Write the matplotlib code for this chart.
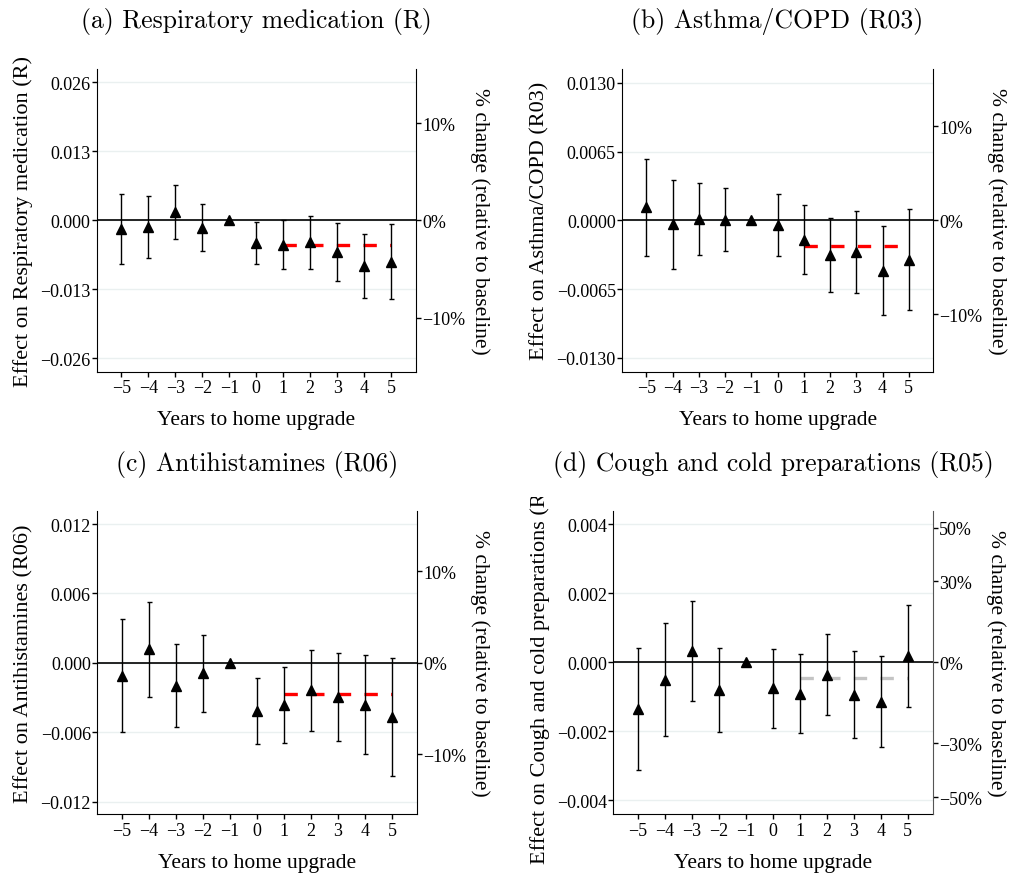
import matplotlib
matplotlib.use('Agg')
import matplotlib.pyplot as plt
import numpy as np
from matplotlib.transforms import Bbox, TransformedBbox

# ==============================
# Dados
# ==============================
years = [-5, -4, -3, -2, -1, 0, 1, 2, 3, 4, 5]
post_years = [1, 5]

# (a) Respiratory medication (R)
coef_a = [-0.00163, -0.00125, 0.00153, -0.00135, 0.0, -0.00429, -0.00460, -0.00417, -0.00592, -0.00852, -0.00780]
lo_a = [-0.00827, -0.00702, -0.00357, -0.00583, np.nan, -0.00821, -0.00921, -0.00915, -0.01134, -0.01453, -0.01485]
hi_a = [0.00501, 0.00451, 0.00664, 0.00313, np.nan, -0.00038, 0.00000, 0.00081, -0.00050, -0.00250, -0.00075]
post_a = -0.00457
base_a = 0.183
yticks_a = [-0.026, -0.013, 0.0, 0.013, 0.026]
ylabels_a = ['\u22120.026', '\u22120.013', '0.000', '0.013', '0.026']
pticks_a = [-10, 0, 10]

# (b) Asthma/COPD (R03)
coef_b = [0.00124, -0.00039, 0.00011, 0.00006, 0.0, -0.00046, -0.00182, -0.00330, -0.00301, -0.00477, -0.00371]
lo_b = [-0.00333, -0.00455, -0.00330, -0.00289, np.nan, -0.00339, -0.00506, -0.00678, -0.00688, -0.00898, -0.00848]
hi_b = [0.00581, 0.00377, 0.00352, 0.00301, np.nan, 0.00248, 0.00141, 0.00019, 0.00085, -0.00057, 0.00107]
post_b = -0.00245
base_b = 0.0887
yticks_b = [-0.013, -0.0065, 0.0, 0.0065, 0.013]
ylabels_b = ['\u22120.0130', '\u22120.0065', '0.0000', '0.0065', '0.0130']
pticks_b = [-10, 0, 10]

# (c) Antihistamines (R06)
coef_c = [-0.00113, 0.00117, -0.00200, -0.00091, 0.0, -0.00416, -0.00363, -0.00239, -0.00294, -0.00362, -0.00470]
lo_c = [-0.00602, -0.00292, -0.00558, -0.00422, np.nan, -0.00703, -0.00691, -0.00590, -0.00674, -0.00792, -0.00980]
hi_c = [0.00376, 0.00526, 0.00159, 0.00240, np.nan, -0.00130, -0.00035, 0.00113, 0.00087, 0.00069, 0.00040]
post_c = -0.00269
base_c = 0.0792
yticks_c = [-0.012, -0.006, 0.0, 0.006, 0.012]
ylabels_c = ['\u22120.012', '\u22120.006', '0.000', '0.006', '0.012']
pticks_c = [-10, 0, 10]

# (d) Cough and cold preparations (R05)
coef_d = [-0.00136, -0.00050, 0.00032, -0.00080, 0.0, -0.00075, -0.00091, -0.00036, -0.00094, -0.00114, 0.00019]
lo_d = [-0.00313, -0.00213, -0.00112, -0.00201, np.nan, -0.00189, -0.00206, -0.00153, -0.00219, -0.00245, -0.00128]
hi_d = [0.00040, 0.00113, 0.00176, 0.00040, np.nan, 0.00039, 0.00024, 0.00081, 0.00032, 0.00017, 0.00166]
post_d = -0.00045
base_d = 0.0078
yticks_d = [-0.004, -0.002, 0.0, 0.002, 0.004]
ylabels_d = ['\u22120.004', '\u22120.002', '0.000', '0.002', '0.004']
pticks_d = [-50, -30, 0, 30, 50]

xlabels = ['\u22125', '\u22124', '\u22123', '\u22122', '\u22121', '0', '1', '2', '3', '4', '5']

plt.rcParams['font.family'] = ['Liberation Serif', 'DejaVu Serif']
plt.rcParams['axes.unicode_minus'] = True


def painel(fig, rect, title, ylabel, coef, lo, hi, post, post_color, base,
           yticks, ylabels, pticks, ylim):
    ax = fig.add_axes(rect)
    coef = np.array(coef)
    yerr = np.vstack([coef - np.array(lo), np.array(hi) - coef])

    # linhas de grade horizontais bem claras
    for yt in yticks:
        ax.axhline(yt, color='#eaf0f0', lw=1.0, zorder=0)

    # média do período pós (tracejada)
    ax.plot(post_years, [post, post], color=post_color, lw=2.4,
            dashes=(4, 4), zorder=1, dash_capstyle='butt')

    ax.axhline(0, color='black', lw=1.2, zorder=2)
    ax.errorbar(years, coef, yerr=yerr, fmt='none', ecolor='black',
                elinewidth=1.0, capsize=1.8, capthick=1.0, zorder=3)
    ax.plot(years, coef, linestyle='none', marker='^', color='black', ms=7.5, zorder=4)

    ax.set_xlim(-5.92, 5.92)
    ax.set_ylim(*ylim)
    ax.set_xticks(years)
    ax.set_xticklabels(xlabels)
    ax.set_yticks(yticks)
    ax.set_yticklabels(ylabels)
    ax.tick_params(direction='out', length=3.6, width=1, labelsize=13, pad=1)
    ax.tick_params(axis='x', pad=2)
    ax.spines['top'].set_visible(False)
    ax.spines['right'].set_visible(False)
    ax.set_xlabel('Years to home upgrade', fontsize=15.5, labelpad=10)
    ax.set_ylabel(ylabel, fontsize=16, labelpad=5)
    ax.set_title(title, fontfamily='cmr10', fontsize=18.5, pad=30)

    # eixo da direita: % em relação à linha de base
    ax2 = ax.twinx()
    ax2.set_ylim(ylim[0] / base * 100, ylim[1] / base * 100)
    ax2.set_yticks(pticks)
    ax2.set_yticklabels([('\u2212%d%%' % -p) if p < 0 else ('%d%%' % p) for p in pticks])
    ax2.tick_params(direction='out', length=3.6, width=1, labelsize=13, pad=1)
    ax2.spines['top'].set_visible(False)
    ax2.spines['left'].set_visible(False)
    ax2.spines['bottom'].set_visible(False)
    ax2.set_ylabel('% change (relative to baseline)', fontsize=15.5,
                   rotation=270, va='bottom', labelpad=3)
    return ax, ax2


fig = plt.figure(figsize=(10.1, 8.78), dpi=100)

painel(fig, [0.0957, 0.5755, 0.3161, 0.3448], '(a) Respiratory medication (R)',
       'Effect on Respiratory medication (R)', coef_a, lo_a, hi_a, post_a, 'red',
       base_a, yticks_a, ylabels_a, pticks_a, (-0.0285, 0.0285))
painel(fig, [0.6161, 0.5755, 0.3076, 0.3448], '(b) Asthma/COPD (R03)',
       'Effect on Asthma/COPD (R03)', coef_b, lo_b, hi_b, post_b, 'red',
       base_b, yticks_b, ylabels_b, pticks_b, (-0.0143, 0.0143))
painel(fig, [0.0963, 0.0714, 0.3163, 0.3451], '(c) Antihistamines (R06)',
       'Effect on Antihistamines (R06)', coef_c, lo_c, hi_c, post_c, 'red',
       base_c, yticks_c, ylabels_c, pticks_c, (-0.0131, 0.0131))
ax_d, ax_d2 = painel(fig, [0.6072, 0.0714, 0.3162, 0.3451], '(d) Cough and cold preparations (R05)',
                     'Effect on Cough and cold preparations (R05)', coef_d, lo_d, hi_d, post_d, '#c4c4c4',
                     base_d, yticks_d, ylabels_d, pticks_d, (-0.0044, 0.00437))
ax_d2.spines['right'].set_color('#555555')

# o rótulo do painel (d) aparece cortado no topo, como no original
clip = TransformedBbox(Bbox([[0.5, 0.0], [0.7, 0.4325]]), fig.transFigure)
ax_d.yaxis.label.set_clip_box(clip)
ax_d.yaxis.label.set_clip_on(True)

fig.savefig('out.png', dpi=100)
